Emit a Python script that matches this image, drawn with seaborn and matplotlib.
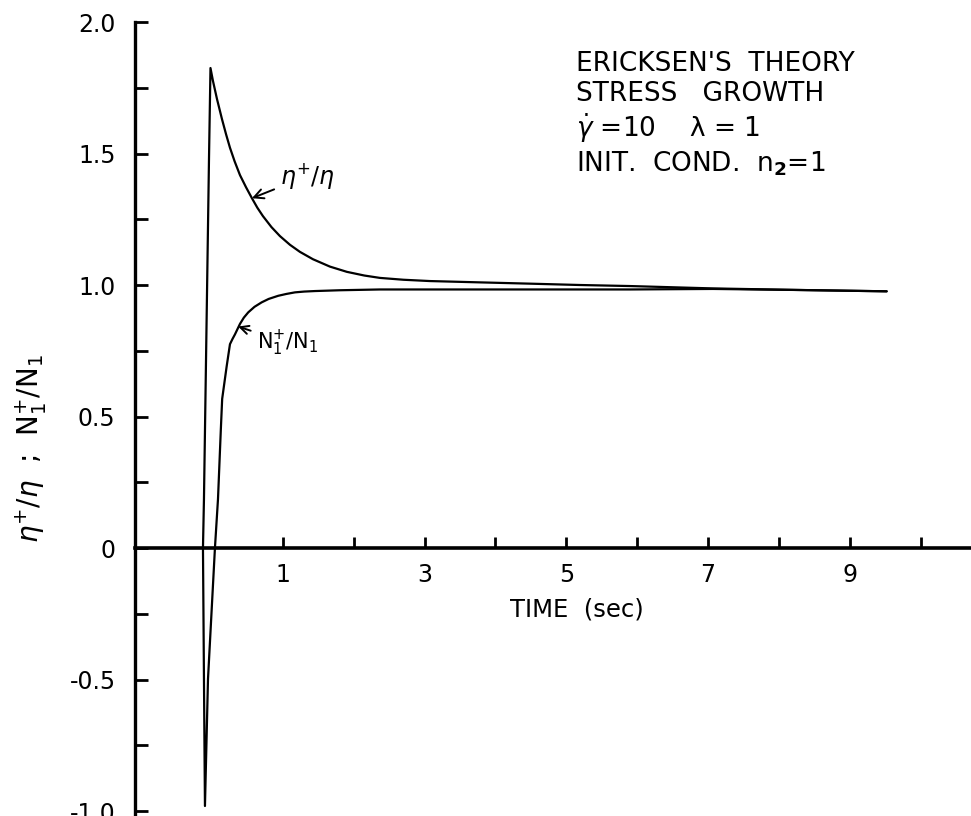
import matplotlib
matplotlib.use("Agg")
import matplotlib.pyplot as plt
import seaborn as sns
import pandas as pd

# ---- data ----
eta_t = [-0.127, -0.113, -0.042, -0.021, 0.014, 0.071, 0.141, 0.20, 0.254, 0.32,
         0.395, 0.48, 0.564, 0.64, 0.719, 0.84, 0.959, 1.10, 1.241, 1.425,
         1.664, 1.904, 2.15, 2.37, 2.7, 3.075, 3.78, 4.5, 5.19, 5.90,
         7.07, 8.29, 9.52]
eta_v = [0.0, 0.186, 1.479, 1.825, 1.776, 1.707, 1.631, 1.572, 1.522, 1.470,
         1.418, 1.372, 1.330, 1.294, 1.262, 1.220, 1.186, 1.153, 1.126, 1.098,
         1.070, 1.050, 1.036, 1.027, 1.020, 1.015, 1.010, 1.005, 1.000, 0.996,
         0.987, 0.981, 0.976]

n1_t = [-0.127, -0.113, -0.099, -0.056, 0.042, 0.085, 0.125, 0.144, 0.207, 0.254,
        0.29, 0.324, 0.395, 0.45, 0.512, 0.60, 0.701, 0.80, 0.935, 1.05,
        1.171, 1.30, 1.453, 1.8, 2.37, 4.06, 5.90, 7.07, 8.29, 9.52]
n1_v = [0.0, -0.498, -0.981, -0.498, 0.0, 0.186, 0.45, 0.567, 0.69, 0.775,
        0.795, 0.812, 0.852, 0.876, 0.896, 0.917, 0.934, 0.947, 0.959, 0.966,
        0.972, 0.975, 0.977, 0.980, 0.983, 0.983, 0.983, 0.985, 0.981, 0.976]

x_ticks = [1, 2, 3, 4, 5, 6, 7, 8, 9, 10]
x_labels = ["1", "", "3", "", "5", "", "7", "", "9", ""]
y_major = [-1.0, -0.5, 0.0, 0.5, 1.0, 1.5, 2.0]
y_labels = ["-1.0", "-0.5", "0", "0.5", "1.0", "1.5", "2.0"]
y_minor = [-0.75, -0.25, 0.25, 0.75, 1.25, 1.75]

info_lines = ["ERICKSEN'S  THEORY", "STRESS   GROWTH",
              r"$\dot{\gamma}$ =10    λ = 1", r"INIT.  COND.  n$_\mathbf{2}$=1"]

df = pd.concat([
    pd.DataFrame({"t": eta_t, "v": eta_v, "s": "eta"}),
    pd.DataFrame({"t": n1_t, "v": n1_v, "s": "n1"}),
], ignore_index=True)

sns.set_style("ticks")
plt.rcParams["font.family"] = ["DejaVu Sans"]
plt.rcParams["mathtext.fontset"] = "dejavusans"
for k in ["text.color", "axes.edgecolor", "axes.labelcolor", "xtick.color", "ytick.color"]:
    plt.rcParams[k] = "black"

fig = plt.figure(figsize=(9.71, 8.16), dpi=100)
ax = fig.add_axes([135 / 971, 0.0, 1 - 135 / 971, (816 - 22) / 816])

sns.lineplot(data=df, x="t", y="v", hue="s", palette={"eta": "black", "n1": "black"},
             estimator=None, sort=False, legend=False, linewidth=1.6, ax=ax)

ax.set_xlim(-1.086, 10.71)
ax.set_ylim(-1.019, 2.0)

for s in ["top", "right"]:
    ax.spines[s].set_visible(False)
ax.spines["bottom"].set_position(("data", 0))
ax.spines["bottom"].set_linewidth(2.6)
ax.spines["left"].set_linewidth(2.4)

ax.set_xticks(x_ticks)
ax.set_xticklabels(x_labels)
ax.set_yticks(y_major)
ax.set_yticklabels(y_labels)
ax.set_yticks(y_minor, minor=True)

ax.tick_params(axis="x", direction="in", length=8, width=2, labelsize=17, pad=11)
ax.tick_params(axis="y", which="both", direction="in", length=9, width=2, labelsize=17, pad=14)

ax.set_xlabel("TIME  (sec)", fontsize=17.5)
ax.xaxis.set_label_coords((577 - 135) / 836, (816 - 597) / 794)
ax.set_ylabel(r"$\eta^{+}/\eta$  ;  N$_1^{+}$/N$_1$", fontsize=20)
ax.yaxis.set_label_coords((49 - 135) / 836, (816 - 449) / 794)

ys = [64, 94, 128, 164]
for line, py in zip(info_lines, ys):
    ax.text((576 - 135) / 836, (816 - py) / 794, line, transform=ax.transAxes,
            fontsize=19, ha="left", va="center")

ax.annotate(r"$\eta^{+}/\eta$", xy=(0.564, 1.33), xytext=(0.96, 1.414),
            fontsize=17, va="center", ha="left",
            arrowprops=dict(arrowstyle="->", color="black", lw=1.4, shrinkA=2, shrinkB=0))
ax.annotate(r"N$_1^{+}$/N$_1$", xy=(0.37, 0.842), xytext=(0.63, 0.78),
            fontsize=15, va="center", ha="left",
            arrowprops=dict(arrowstyle="->", color="black", lw=1.4, shrinkA=2, shrinkB=0))

fig.savefig("out.png", dpi=100)
